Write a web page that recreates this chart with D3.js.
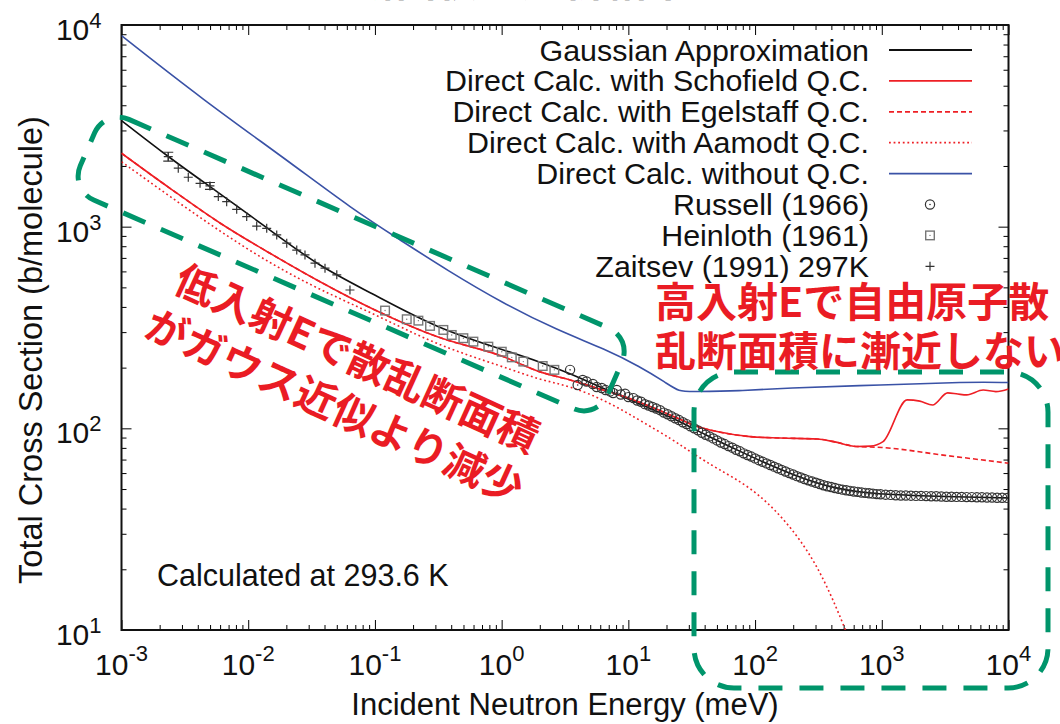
<!DOCTYPE html>
<html>
<head>
<meta charset="utf-8">
<title>Total Cross Section</title>
<script src="https://d3js.org/d3.v7.min.js"></script>
<style>
  body { margin: 0; background: #fff; }
  svg text { font-family: "Liberation Sans", Arial, sans-serif; fill: #111; }
  svg text.jp { font-family: "Noto Sans CJK JP", sans-serif; font-weight: bold; }
</style>
</head>
<body>
<svg id="xs"></svg>
<script>

// all values, as [log10(E / meV), log10(sigma / b)]
var gaussian = [[-3.0,3.526],[-2.617,3.339],[-2.30,3.198],[-1.828,2.984],[-1.433,2.80],[-1.04,2.675],[-0.51,2.495],
  [0.01,2.39],[0.30,2.33],[0.54,2.272],[0.83,2.19],[1.09,2.12],[1.35,2.052],[1.6,1.97],[1.88,1.886],[2.1,1.822],
  [2.3,1.77],[2.5,1.726],[2.62,1.706],[2.8,1.686],[3.0,1.673],[3.5,1.661],[4.0,1.655]];

var schofield = [[-3.0,3.364],[-2.617,3.19],[-2.22,3.017],[-1.828,2.868],[-1.433,2.727],[-1.0,2.587],[-0.512,2.455],
  [0.011,2.356],[0.303,2.28],[0.54,2.24],[0.80,2.19],[1.0,2.15],[1.353,2.06],[1.51,2.017],[1.70,1.984],[1.96,1.959],
  [2.2,1.952],[2.49,1.947],[2.62,1.934],[2.8,1.91],[2.91,1.912],[3.01,1.934],[3.20,2.141],[3.30,2.135],[3.40,2.116],
  [3.52,2.176],[3.6,2.17],[3.67,2.166],[3.8,2.19],[3.9,2.182],[4.0,2.195]];

var egelstaff = [[-3.0,3.364],[-2.617,3.19],[-2.22,3.017],[-1.828,2.868],[-1.433,2.727],[-1.0,2.587],[-0.512,2.455],
  [0.011,2.356],[0.303,2.28],[0.54,2.24],[0.80,2.19],[1.0,2.15],[1.353,2.06],[1.51,2.017],[1.70,1.984],[1.96,1.959],
  [2.2,1.952],[2.49,1.947],[2.62,1.934],[2.8,1.91],[3.0,1.905],[3.5,1.866],[4.0,1.827]];

var aamodt = [[-3.0,3.322],[-2.617,3.149],[-2.22,2.975],[-1.828,2.818],[-1.433,2.686],[-0.96,2.554],[-0.512,2.413],
  [0.011,2.306],[0.303,2.24],[0.54,2.21],[0.83,2.135],[1.09,2.04],[1.353,1.943],[1.51,1.875],[1.70,1.80],[1.96,1.711],
  [2.22,1.562],[2.49,1.333],[2.70,1.025],[2.8,0.86]];

var noQC = [[-3.0,3.947],[-2.354,3.628],[-1.696,3.331],[-1.17,3.083],[-0.80,2.934],[-0.433,2.785],[0.011,2.62],
  [0.435,2.488],[0.83,2.389],[1.09,2.306],[1.30,2.225],[1.40,2.182],[1.50,2.182],[1.88,2.185],[2.22,2.20],
  [3.01,2.215],[3.67,2.23],[4.0,2.227]];

var russell = [[0.54,2.29],[0.60,2.215],[0.64,2.24],[0.67,2.232],[0.72,2.22],[0.75,2.205],[0.79,2.2],[0.82,2.19],
  [0.856,2.183],[0.88,2.175],[0.909,2.19],[0.94,2.168],[0.974,2.172],[1.0,2.155],[1.04,2.15],[1.07,2.138],[1.10,2.132],
  [1.13,2.12],[1.16,2.113],[1.19,2.106],[1.22,2.098],[1.25,2.09],[1.28,2.078],[1.31,2.07],[1.34,2.06],[1.37,2.05],
  [1.40,2.041],[1.43,2.03],[1.46,2.021],[1.49,2.01],[1.52,2.0],[1.55,1.99],[1.58,1.978],[1.61,1.968],[1.64,1.96],
  [1.67,1.95],[1.70,1.94],[1.73,1.93],[1.76,1.922],[1.79,1.912],[1.82,1.904],[1.85,1.894],[1.88,1.886],[1.91,1.876],
  [1.94,1.868],[1.97,1.86],[2.0,1.851],[2.03,1.842],[2.06,1.834],[2.09,1.826],[2.12,1.818],[2.15,1.81],[2.18,1.802],
  [2.21,1.794],[2.24,1.786],[2.27,1.778],[2.30,1.771],[2.33,1.763],[2.36,1.756],[2.39,1.749],[2.42,1.742],[2.45,1.736],
  [2.48,1.73],[2.51,1.724],[2.54,1.718],[2.57,1.713],[2.60,1.709],[2.63,1.704],[2.66,1.70],[2.69,1.696],[2.72,1.693],
  [2.75,1.69],[2.78,1.687],[2.81,1.685],[2.84,1.682],[2.87,1.68],[2.90,1.678],[2.93,1.676],[2.96,1.674],[2.99,1.673],
  [3.03,1.671],[3.07,1.67],[3.11,1.668],[3.15,1.667],[3.19,1.667],[3.23,1.666],[3.27,1.665],[3.31,1.665],[3.35,1.664],
  [3.39,1.663],[3.43,1.663],[3.47,1.662],[3.51,1.661],[3.55,1.661],[3.59,1.66],[3.63,1.66],[3.67,1.659],[3.71,1.659],
  [3.75,1.658],[3.79,1.658],[3.83,1.657],[3.87,1.657],[3.91,1.656],[3.95,1.656],[3.99,1.655]];

var heinloth = [[-0.920,2.584],[-0.749,2.541],[-0.657,2.534],[-0.565,2.508],[-0.460,2.488],[-0.394,2.463],
  [-0.302,2.447],[-0.223,2.430],[-0.105,2.405],[0.001,2.380],[0.080,2.352],[0.171,2.331],[0.324,2.309],[0.416,2.290]];

var zaitsev = [[-2.631,3.347],[-2.552,3.290],[-2.473,3.245],[-2.380,3.215],[-2.302,3.202],[-2.236,3.149],[-2.170,3.124],
  [-2.091,3.086],[-2.012,3.050],[-1.933,3.003],[-1.854,2.992],[-1.775,2.959],[-1.696,2.918],[-1.617,2.884],
  [-1.552,2.860],[-1.473,2.819],[-1.394,2.794],[-1.301,2.761],[-1.197,2.686]];
// half length of the error bar (log10 units), only two points show one
var zaitsevErr = [0.022,0,0,0,0.017,0,0,0,0,0,0,0,0,0,0,0,0,0,0];

var xDecades = [-3, -2, -1, 0, 1, 2, 3, 4];
var yDecades = [1, 2, 3, 4];

var legendNames = ["Gaussian Approximation", "Direct Calc. with Schofield Q.C.", "Direct Calc. with Egelstaff Q.C.",
  "Direct Calc. with Aamodt Q.C.", "Direct Calc. without Q.C.", "Russell (1966)", "Heinloth (1961)", "Zaitsev (1991) 297K"];


var margin = {top: 25, right: 51.5, bottom: 94, left: 121.5},
    width = 1060 - margin.left - margin.right,
    height = 724 - margin.top - margin.bottom;

var red = "#ee1f25", blue = "#3a52a6", green = "#00956b", annRed = "#ea1c24";

var svg = d3.select("#xs").attr("width", 1060).attr("height", 724);

// title, mostly cut off at the top of the picture
svg.append("text").attr("class", "jp")
  .attr("x", 500).attr("y", -4)
  .attr("text-anchor", "middle")
  .style("font-size", "42px").style("fill", "#111")
  .text("全断面積の解析結果");

var g = svg.append("g").attr("transform", "translate(" + margin.left + "," + margin.top + ")");

var x = d3.scaleLog().domain([1e-3, 1e4]).range([0, width]);
var y = d3.scaleLog().domain([10, 1e4]).range([height, 0]);

function px(d) { return x(Math.pow(10, d[0])); }
function py(d) { return y(Math.pow(10, d[1])); }

g.append("clipPath").attr("id", "plotclip")
  .append("rect").attr("width", width).attr("height", height);

//ticks on all four sides, pointing in, longer at the decades
function isDecade(v) {
  var l = Math.log10(v);
  return Math.abs(l - Math.round(l)) < 1e-6;
}
function longer(axisG, attr) {
  axisG.select(".domain").remove();
  axisG.selectAll(".tick line").each(function(d) {
    if (isDecade(d)) {
      var s = d3.select(this);
      s.attr(attr, +s.attr(attr) * 2);
    }
  });
}
var xt = x.ticks(), yt = y.ticks();

var ax = g.append("g").attr("transform", "translate(0," + height + ")")
  .call(d3.axisBottom(x).tickValues(xt).tickSize(-5).tickFormat(""));
longer(ax, "y2");
ax = g.append("g")
  .call(d3.axisTop(x).tickValues(xt).tickSize(-5).tickFormat(""));
longer(ax, "y2");
ax = g.append("g")
  .call(d3.axisLeft(y).tickValues(yt).tickSize(-5).tickFormat(""));
longer(ax, "x2");
ax = g.append("g").attr("transform", "translate(" + width + ",0)")
  .call(d3.axisRight(y).tickValues(yt).tickSize(-5).tickFormat(""));
longer(ax, "x2");

g.append("rect").attr("width", width).attr("height", height)
  .style("fill", "none").style("stroke", "#111").style("stroke-width", 2);

// tick labels 10^n
xDecades.forEach(function(e) {
  var t = g.append("text").attr("x", x(Math.pow(10, e))).attr("y", height + 45)
    .attr("text-anchor", "middle").style("font-size", "30px");
  t.append("tspan").text("10");
  t.append("tspan").attr("dy", -14).style("font-size", "22px").text(e);
});
yDecades.forEach(function(e) {
  var t = g.append("text").attr("x", -20).attr("y", y(Math.pow(10, e)) + 15)
    .attr("text-anchor", "end").style("font-size", "30px");
  t.append("tspan").text("10");
  t.append("tspan").attr("dy", -12).style("font-size", "22px").text(e);
});

// axis titles
svg.append("text").attr("x", 565).attr("y", 715).attr("text-anchor", "middle")
  .style("font-size", "31px").text("Incident Neutron Energy (meV)");
svg.append("text").attr("transform", "translate(42,350)rotate(-90)").attr("text-anchor", "middle")
  .style("font-size", "32.5px").text("Total Cross Section (b/molecule)");

// curves: smooth ones through a b-spline, the jagged Schofield/Egelstaff ones monotone
var smooth = d3.line().x(px).y(py).curve(d3.curveBasis);
var mono = d3.line().x(px).y(py).curve(d3.curveMonotoneX);
var plot = g.append("g").attr("clip-path", "url(#plotclip)");

var curves = [
  {data: gaussian, color: "#111", dash: null, gen: smooth},
  {data: schofield, color: red, dash: null, gen: mono},
  {data: egelstaff, color: red, dash: "5,3", gen: mono},
  {data: aamodt, color: red, dash: "1.8,2.8", gen: smooth},
  {data: noQC, color: blue, dash: null, gen: smooth}
];
curves.forEach(function(c) {
  plot.append("path").datum(c.data)
    .attr("d", c.gen)
    .style("fill", "none").style("stroke", c.color).style("stroke-width", 1.6)
    .style("stroke-dasharray", c.dash);
});

// experimental points
function circleMark(sel) {
  sel.append("circle").attr("r", 4.6).style("fill", "none").style("stroke", "#333").style("stroke-width", 1.2);
  sel.append("circle").attr("r", 0.8).style("fill", "#333");
}
function squareMark(sel) {
  sel.append("rect").attr("x", -4.3).attr("y", -4.3).attr("width", 8.6).attr("height", 8.6)
    .style("fill", "none").style("stroke", "#777").style("stroke-width", 1.4);
  sel.append("circle").attr("r", 0.7).style("fill", "#777");
}
function plusMark(sel) {
  sel.append("path").attr("d", "M-4.5,0H4.5M0,-4.5V4.5").style("stroke", "#333").style("stroke-width", 1.2);
}

plot.selectAll(".rus").data(russell).enter().append("g")
  .attr("transform", function(d) { return "translate(" + px(d) + "," + py(d) + ")"; })
  .call(circleMark);
plot.selectAll(".hei").data(heinloth).enter().append("g")
  .attr("transform", function(d) { return "translate(" + px(d) + "," + py(d) + ")"; })
  .call(squareMark);
var zg = plot.selectAll(".zai").data(zaitsev).enter().append("g")
  .attr("transform", function(d) { return "translate(" + px(d) + "," + py(d) + ")"; })
  .call(plusMark);
zg.filter(function(d, i) { return zaitsevErr[i] > 0; })
  .append("path")
  .attr("d", function(d) {
    var i = zaitsev.indexOf(d);
    var up = y(Math.pow(10, d[1] + zaitsevErr[i])) - py(d);
    var dn = y(Math.pow(10, d[1] - zaitsevErr[i])) - py(d);
    return "M0," + up + "V" + dn + "M-5," + up + "H5M-5," + dn + "H5";
  })
  .style("stroke", "#333").style("stroke-width", 1.2).style("fill", "none");

// legend
var legendStyle = [
  {color: "#111", dash: null}, {color: red, dash: null}, {color: red, dash: "5,3"},
  {color: red, dash: "1.8,2.8"}, {color: blue, dash: null},
  {mark: circleMark}, {mark: squareMark}, {mark: plusMark}
];
legendNames.forEach(function(name, i) {
  var ry = 25 + i * 30.9;
  g.append("text").attr("x", 747.5).attr("y", ry + 10.5).attr("text-anchor", "end")
    .style("font-size", "30.4px").text(name);
  var st = legendStyle[i];
  if (st.mark) {
    g.append("g").attr("transform", "translate(808.5," + ry + ")").call(st.mark);
  } else {
    g.append("line").attr("x1", 767.5).attr("x2", 850.5).attr("y1", ry).attr("y2", ry)
      .style("stroke", st.color).style("stroke-width", 1.8).style("stroke-dasharray", st.dash);
  }
});

g.append("text").attr("x", 35.5).attr("y", 561).style("font-size", "30.5px").text("Calculated at 293.6 K");

// green dashed highlight boxes
svg.append("rect")
  .attr("transform", "translate(105,109)rotate(23.5)")
  .attr("width", 575).attr("height", 88).attr("rx", 26)
  .style("fill", "none").style("stroke", green).style("stroke-width", 5).style("stroke-dasharray", "24,17");
svg.append("rect")
  .attr("x", 694).attr("y", 372).attr("width", 354).attr("height", 316).attr("rx", 40)
  .style("fill", "none").style("stroke", green).style("stroke-width", 5).style("stroke-dasharray", "24,17");

// red notes
var note = svg.append("g").attr("transform", "translate(178,276)rotate(24.5)");
note.append("text").attr("class", "jp").attr("x", 0).attr("y", 15.6)
  .style("font-size", "41px").style("fill", annRed).text("低入射Eで散乱断面積");
note.append("text").attr("class", "jp").attr("x", -8).attr("y", 68.6)
  .style("font-size", "41px").style("fill", annRed).text("がガウス近似より減少");

svg.append("text").attr("class", "jp").attr("x", 655).attr("y", 317)
  .style("font-size", "41px").style("fill", annRed).text("高入射Eで自由原子散");
svg.append("text").attr("class", "jp").attr("x", 655).attr("y", 366)
  .style("font-size", "41px").style("fill", annRed).text("乱断面積に漸近しない");

</script>
</body>
</html>
